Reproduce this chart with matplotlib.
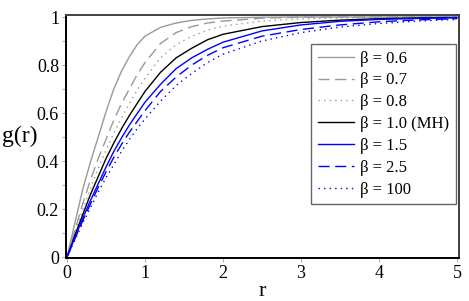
import matplotlib
matplotlib.use("Agg")
import matplotlib.pyplot as plt
from matplotlib.ticker import MultipleLocator

# values
r = [0, 0.1, 0.2, 0.3, 0.4, 0.5, 0.6, 0.7, 0.8, 0.9, 1.0, 1.2, 1.4, 1.6, 1.8, 2.0, 2.5, 3.0, 3.5, 4.0, 4.5, 5.0]

g_06 = [0, 0.14, 0.28, 0.395, 0.50, 0.605, 0.70, 0.775, 0.835, 0.885, 0.92, 0.957, 0.975, 0.986, 0.992, 0.996, 0.999, 1.0, 1.0, 1.0, 1.0, 1.0]
g_07 = [0, 0.11, 0.22, 0.32, 0.41, 0.49, 0.57, 0.64, 0.70, 0.76, 0.81, 0.89, 0.935, 0.960, 0.975, 0.983, 0.995, 0.999, 1.0, 1.0, 1.0, 1.0]
g_08 = [0, 0.10, 0.195, 0.285, 0.37, 0.445, 0.515, 0.58, 0.64, 0.695, 0.745, 0.83, 0.885, 0.92, 0.945, 0.962, 0.983, 0.992, 0.996, 0.998, 0.999, 1.0]
g_10 = [0, 0.09, 0.175, 0.26, 0.335, 0.41, 0.475, 0.535, 0.59, 0.64, 0.69, 0.77, 0.83, 0.87, 0.905, 0.928, 0.96, 0.977, 0.987, 0.993, 0.996, 0.998]
g_15 = [0, 0.08, 0.16, 0.235, 0.305, 0.375, 0.44, 0.497, 0.55, 0.598, 0.645, 0.72, 0.785, 0.83, 0.865, 0.895, 0.942, 0.967, 0.982, 0.990, 0.994, 0.997]
g_25 = [0, 0.075, 0.15, 0.22, 0.29, 0.355, 0.415, 0.47, 0.52, 0.565, 0.61, 0.69, 0.75, 0.80, 0.84, 0.872, 0.92, 0.948, 0.967, 0.980, 0.988, 0.993]
g_100 = [0, 0.07, 0.14, 0.205, 0.27, 0.33, 0.385, 0.44, 0.49, 0.535, 0.575, 0.65, 0.715, 0.765, 0.81, 0.845, 0.90, 0.935, 0.958, 0.973, 0.983, 0.990]

labels = ["β = 0.6", "β = 0.7", "β = 0.8", "β = 1.0 (MH)", "β = 1.5", "β = 2.5", "β = 100"]
x_ticks = [0, 1, 2, 3, 4, 5]
y_ticks = [0, 0.2, 0.4, 0.6, 0.8, 1]
y_tick_labels = ["0", "0.2", "0.4", "0.6", "0.8", "1"]

plt.rcParams['font.family'] = ['Liberation Serif', 'DejaVu Serif']

fig = plt.figure(figsize=(4.69, 3.01), dpi=100)
ax = fig.add_axes([0.1407, 0.1429, 0.838, 0.807])

gray = "#999999"
blue = "#0000ff"
lw = 1.0
ax.plot(r, g_06, color=gray, lw=lw, ls="-", label=labels[0])
ax.plot(r, g_07, color=gray, lw=lw, ls=(0, (8, 4)), label=labels[1])
ax.plot(r, g_08, color=gray, lw=lw, ls=(0, (1, 3)), label=labels[2])
ax.plot(r, g_10, color="black", lw=lw, ls="-", label=labels[3])
ax.plot(r, g_15, color=blue, lw=lw, ls="-", label=labels[4])
ax.plot(r, g_25, color=blue, lw=lw, ls=(0, (8, 4)), label=labels[5])
ax.plot(r, g_100, color=blue, lw=lw, ls=(0, (1, 3)), label=labels[6])

ax.set_xlim(-0.013, 5.026)
ax.set_ylim(-0.004, 1.008)
ax.set_xticks(x_ticks)
ax.set_yticks(y_ticks)
ax.set_yticklabels(y_tick_labels)
ax.yaxis.set_minor_locator(MultipleLocator(0.1))
ax.tick_params(which="both", direction="out", length=3, width=0.8, color="#b0b0b0",
               labelsize=13, pad=2)

for side in ["left", "bottom"]:
    ax.spines[side].set_linewidth(1.4)
    ax.spines[side].set_color("black")
for side in ["top", "right"]:
    ax.spines[side].set_linewidth(1.4)
    ax.spines[side].set_color("#404040")

ax.set_xlabel("r", fontsize=16, labelpad=0)
ax.set_ylabel("g(r)", fontsize=17, rotation=0, labelpad=12, va="center")

leg = ax.legend(loc="upper right", bbox_to_anchor=(0.992, 0.881), borderaxespad=0,
                fontsize=12, frameon=True, fancybox=False, handlelength=2.2,
                handletextpad=0.35, labelspacing=0.35, borderpad=0.4)
leg.get_frame().set_edgecolor("#404040")
leg.get_frame().set_linewidth(1.0)

fig.savefig("out.png", dpi=100)
